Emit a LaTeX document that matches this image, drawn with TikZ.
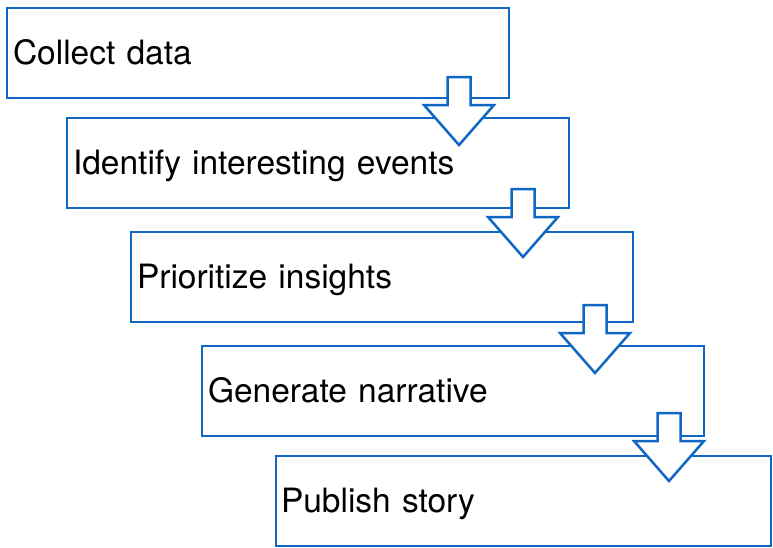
\documentclass[tikz,border=0pt]{standalone}
\usepackage{fontspec}
\setmainfont{TeX Gyre Heros}
\usetikzlibrary{calc}
\definecolor{stepblue}{RGB}{16,103,196}
\tikzset{
  steparrow/.pic={
    \draw[downarrow](-11.5,-23)--(11.5,-23)--(11.5,5)--(35,5)--(0,45)--(-35,5)--(-11.5,5)--cycle;
  }
}
\begin{document}
\begin{tikzpicture}[x=1pt,y=-1pt]
\tikzstyle{stage}=[draw=stepblue, line width=2.5pt, outer sep=0, minimum width=502pt, minimum height=90pt, inner xsep=5pt, text width=490pt, text height=23pt, text depth=0pt, align=left, anchor=north west, font=\fontsize{33.5}{40}\selectfont]
\tikzstyle{downarrow}=[draw=stepblue, line width=2.5pt, fill=white, line join=miter]
\useasboundingbox(0,0)rectangle(773,547);
\node[stage](collect)at(7,8){Collect data};
\node[stage](identify)at(67,118){Identify interesting events};
\node[stage](prioritize)at(131,232){Prioritize insights};
\node[stage](generate)at(202,346){Generate narrative};
\node[stage, minimum width=495pt, text width=485pt](publish)at(276,456){Publish story};
\path(collect.south east)++(-50,2)pic{steparrow};
\path(identify.south east)++(-46,4)pic{steparrow};
\path(prioritize.south east)++(-38,6)pic{steparrow};
\path(generate.south east)++(-35,0)pic{steparrow};
\end{tikzpicture}
\end{document}
